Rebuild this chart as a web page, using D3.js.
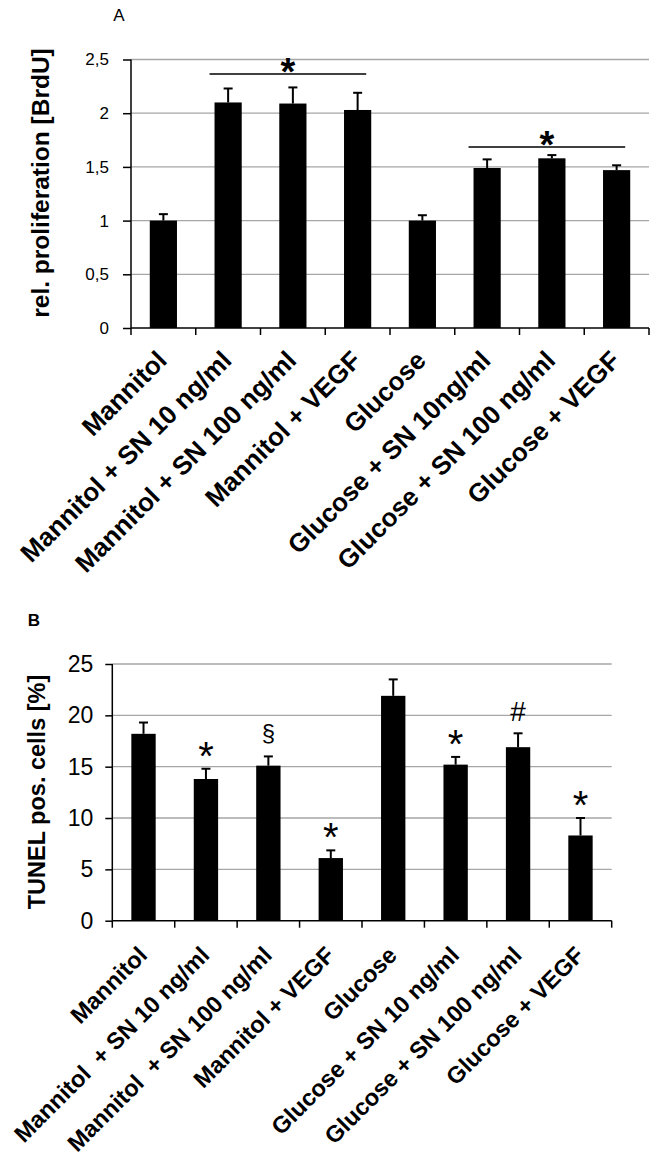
<!DOCTYPE html>
<html><head><meta charset="utf-8">
<script src="https://cdn.jsdelivr.net/npm/d3@7"></script>
<style>body{margin:0;background:#fff}svg{display:block}text{font-family:"Liberation Sans",Arial,sans-serif}</style>
</head><body>
<script>
const categoriesA = ["Mannitol","Mannitol + SN 10 ng/ml","Mannitol + SN 100 ng/ml","Mannitol + VEGF","Glucose","Glucose + SN 10ng/ml","Glucose + SN 100 ng/ml","Glucose + VEGF"];
const valuesA = [1.0, 2.10, 2.09, 2.03, 1.0, 1.49, 1.58, 1.47];
const errorsA = [0.06, 0.13, 0.15, 0.16, 0.05, 0.08, 0.03, 0.045];
const yTicksA = [0, 0.5, 1, 1.5, 2, 2.5];
const yTickLabelsA = ["0", "0,5", "1", "1,5", "2", "2,5"];
const sigGroupsA = [[1, 3, 2.365], [5, 7, 1.685]];

const categoriesB = ["Mannitol","Mannitol  + SN 10 ng/ml","Mannitol  + SN 100 ng/ml","Mannitol + VEGF","Glucose","Glucose + SN 10 ng/ml","Glucose + SN 100 ng/ml","Glucose + VEGF"];
const valuesB = [18.2, 13.8, 15.1, 6.1, 21.9, 15.2, 16.9, 8.3];
const errorsB = [1.1, 1.0, 0.9, 0.75, 1.6, 0.75, 1.35, 1.7];
const marksB = ["", "*", "§", "*", "", "*", "#", "*"];
const yTicksB = [0, 5, 10, 15, 20, 25];

const W = 656, H = 1163;
const svg = d3.select("body").append("svg").attr("width", W).attr("height", H);

function panel(opt) {
  const g = svg.append("g");
  const x = d3.scaleBand().domain(opt.cats).range([opt.x0, opt.x1]).paddingInner(opt.pad).paddingOuter(opt.pad / 2);
  const xb = d3.scaleBand().domain(opt.cats).range([opt.x0, opt.x1]);
  const y = d3.scaleLinear().domain([0, opt.ymax]).range([opt.y0, opt.yTop]);
  g.selectAll("line.grid").data(opt.ticks.filter(t => t > 0)).join("line")
    .attr("x1", opt.x0).attr("x2", opt.x1).attr("y1", d => y(d)).attr("y2", d => y(d))
    .attr("stroke", "#a6a6a6").attr("stroke-width", 1.3);
  const ya = d3.axisLeft(y).tickValues(opt.ticks).tickSize(opt.tickLen).tickPadding(opt.tickPad)
    .tickFormat((d, i) => opt.tickLabels[i]);
  const yg = g.append("g").attr("transform", `translate(${opt.x0},0)`).call(ya);
  yg.select(".domain").attr("stroke", "#000").attr("stroke-width", 1.5).attr("d", `M0,${opt.y0}V${opt.yTop}`);
  yg.selectAll(".tick line").attr("stroke", "#000").attr("stroke-width", 1.5);
  yg.selectAll(".tick text").attr("font-size", opt.tickFont).attr("font-weight", opt.tickWeight)
    .attr("fill", "#000").style("font-family", '"Liberation Sans",Arial,sans-serif');
  const xa = d3.axisBottom(xb).tickSize(0).tickFormat("");
  const xg = g.append("g").attr("transform", `translate(0,${opt.y0})`).call(xa);
  xg.select(".domain").attr("stroke", "#000").attr("stroke-width", 1.5).attr("d", `M${opt.x0},0H${opt.x1}`);
  const bounds = d3.range(opt.cats.length + 1).map(i => opt.x0 + i * xb.step());
  g.selectAll("line.xt").data(bounds).join("line")
    .attr("x1", d => d).attr("x2", d => d).attr("y1", opt.y0).attr("y2", opt.y0 + 7)
    .attr("stroke", "#000").attr("stroke-width", 1.5);
  g.selectAll("rect.bar").data(opt.vals).join("rect")
    .attr("x", (d, i) => x(opt.cats[i])).attr("width", x.bandwidth())
    .attr("y", d => y(d)).attr("height", d => opt.y0 - y(d)).attr("fill", "#000");
  const cx = i => x(opt.cats[i]) + x.bandwidth() / 2;
  g.selectAll("line.err").data(opt.vals).join("line")
    .attr("x1", (d, i) => cx(i)).attr("x2", (d, i) => cx(i))
    .attr("y1", d => y(d)).attr("y2", (d, i) => y(d + opt.errs[i]))
    .attr("stroke", "#000").attr("stroke-width", 2);
  g.selectAll("line.cap").data(opt.vals).join("line")
    .attr("x1", (d, i) => cx(i) - 4.5).attr("x2", (d, i) => cx(i) + 4.5)
    .attr("y1", (d, i) => y(d + opt.errs[i])).attr("y2", (d, i) => y(d + opt.errs[i]))
    .attr("stroke", "#000").attr("stroke-width", 2);
  g.selectAll("text.xl").data(opt.cats).join("text")
    .attr("transform", (d, i) => `translate(${cx(i) + opt.lblDx},${opt.y0 + opt.lblDy}) rotate(-45)`)
    .attr("text-anchor", "end").attr("font-size", opt.lblFont).attr("font-weight", "bold")
    .style("white-space", "pre").text(d => d);
  g.append("text").attr("transform", `translate(${opt.ytX},${opt.ytY}) rotate(-90)`)
    .attr("text-anchor", "middle").attr("dy", "0.35em").attr("font-size", opt.ytFont).attr("font-weight", "bold")
    .text(opt.ytitle);
  return {x, y, cx, g};
}

const A = panel({cats: categoriesA, vals: valuesA, errs: errorsA, ticks: yTicksA, tickLabels: yTickLabelsA,
  ymax: 2.5, x0: 131, x1: 649, y0: 328, yTop: 59.5, pad: 0.58, tickLen: 8, tickPad: 14, tickFont: 17, tickWeight: "normal",
  lblDx: 5, lblDy: 34, lblFont: 26, ytitle: "rel. proliferation [BrdU]", ytX: 40, ytY: 183, ytFont: 24.5});
sigGroupsA.forEach(([a, b, v]) => {
  const xs = A.x(categoriesA[a]) - 5, xe = A.x(categoriesA[b]) + A.x.bandwidth() - 5;
  A.g.append("line").attr("x1", xs).attr("x2", xe).attr("y1", A.y(v)).attr("y2", A.y(v))
    .attr("stroke", "#000").attr("stroke-width", 1.5);
  A.g.append("text").attr("x", (xs + xe) / 2).attr("y", A.y(v) + 11).attr("text-anchor", "middle")
    .attr("font-size", 38).attr("font-weight", "bold").text("*");
});
svg.append("text").attr("x", 119).attr("y", 21).attr("text-anchor", "middle").attr("font-size", 17).text("A");

const B = panel({cats: categoriesB, vals: valuesB, errs: errorsB, ticks: yTicksB, tickLabels: yTicksB.map(String),
  ymax: 25, x0: 112.3, x1: 611.7, y0: 920.7, yTop: 664, pad: 0.61, tickLen: 7, tickPad: 12, tickFont: 23, tickWeight: "normal",
  lblDx: 5, lblDy: 36, lblFont: 23.5, ytitle: "TUNEL pos. cells [%]", ytX: 37, ytY: 792, ytFont: 23.5});
const markSize = {"*": 40, "§": 24, "#": 28};
const markShift = {"*": 1, "§": -15.5, "#": -12};
B.g.selectAll("text.mk").data(marksB).join("text")
  .attr("x", (d, i) => B.cx(i)).attr("y", (d, i) => B.y(valuesB[i] + errorsB[i]) + (markShift[d] || 0))
  .attr("text-anchor", "middle").attr("font-size", d => markSize[d] || 20).attr("font-weight", "normal")
  .text(d => d);
svg.append("text").attr("x", 34).attr("y", 626).attr("text-anchor", "middle").attr("font-size", 17).attr("font-weight", "bold").text("B");
</script>
</body></html>
